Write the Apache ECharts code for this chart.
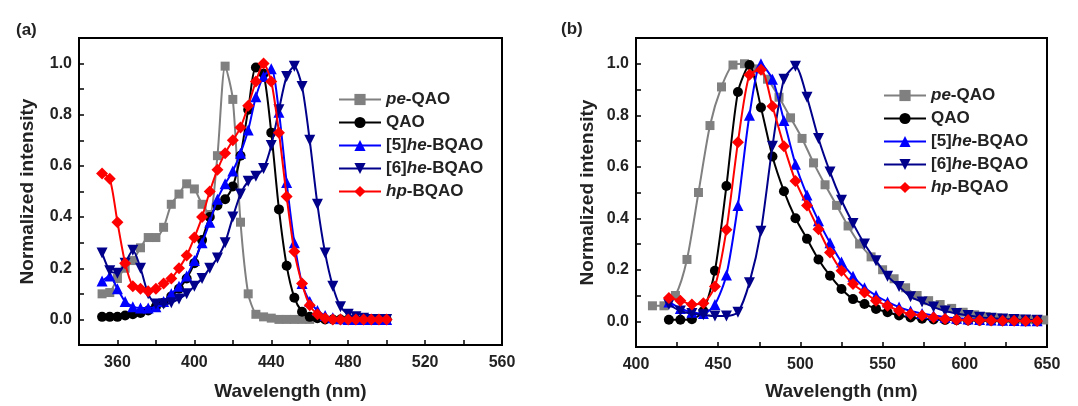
<!DOCTYPE html>
<html>
<head>
<meta charset="utf-8">
<script src="https://cdn.jsdelivr.net/npm/echarts@6/dist/echarts.min.js"></script>
<style>
html,body{margin:0;padding:0;background:#fff;}
#c{width:1078px;height:406px;}
</style>
</head>
<body>
<div id="c"></div>
<script>
// ---------- Data ----------
const seriesNames = ['pe-QAO', 'QAO', '[5]he-BQAO', '[6]he-BQAO', 'hp-BQAO'];

// Panel (a)
const wavelengthA = [352,356,360,364,368,372,376,380,384,388,392,396,400,404,408,412,416,420,424,428,432,436,440,444,448,452,456,460,464,468,472,476,480,484,488,492,496,500];
const wavelengthA_pe = [352,356,360,364,368,372,376,380,384,388,392,396,400,404,408,412,416,420,424,428,432,436,440,444,448,452,456,460];
const peQAO_A = [0.10,0.105,0.16,0.20,0.23,0.28,0.32,0.32,0.36,0.45,0.49,0.53,0.51,0.45,0.41,0.64,0.99,0.86,0.38,0.10,0.02,0.01,0.005,0,0,0,0,0];
const QAO_A   = [0.01,0.01,0.01,0.015,0.02,0.025,0.035,0.05,0.065,0.09,0.12,0.16,0.22,0.31,0.40,0.445,0.47,0.52,0.64,0.82,0.985,0.96,0.73,0.43,0.21,0.085,0.03,0.01,0.005,0,0,0,0,0,0,0,0,0];
const he5_A   = [0.15,0.17,0.12,0.07,0.05,0.045,0.045,0.05,0.07,0.10,0.13,0.17,0.23,0.30,0.38,0.47,0.53,0.58,0.65,0.74,0.87,0.95,0.98,0.81,0.535,0.30,0.14,0.07,0.035,0.015,0.007,0.003,0,0,0,0,0,0];
const he6_A   = [0.26,0.19,0.18,0.22,0.27,0.20,0.10,0.06,0.06,0.065,0.08,0.10,0.13,0.16,0.20,0.24,0.30,0.40,0.49,0.54,0.56,0.59,0.68,0.82,0.95,0.99,0.91,0.70,0.45,0.26,0.13,0.05,0.02,0.01,0.005,0,0,0];
const hp_A    = [0.57,0.55,0.38,0.22,0.13,0.12,0.11,0.12,0.14,0.16,0.20,0.25,0.32,0.40,0.50,0.585,0.65,0.70,0.75,0.835,0.93,1.0,0.93,0.73,0.48,0.265,0.14,0.055,0.02,0.005,0,0,0,0,0,0,0,0];

// Panel (b)
const wavelengthB = [420,427,434,441,448,455,462,469,476,483,490,497,504,511,518,525,532,539,546,553,560,567,574,581,588,595,602,609,616,623,630,637,644];
const wavelengthB_pe = [410,417,424,431,438,445,452,459,466,473,480,487,494,501,508,515,522,529,536,543,550,557,564,571,578,585,592,599,606,613,620,627,634,641,648];
const peQAO_B = [0.06,0.06,0.10,0.24,0.50,0.76,0.91,0.995,1.0,0.98,0.94,0.87,0.79,0.71,0.615,0.53,0.45,0.37,0.30,0.25,0.20,0.165,0.13,0.10,0.08,0.065,0.05,0.035,0.025,0.018,0.013,0.01,0.008,0.006,0.005];
const QAO_B   = [0.006,0.006,0.008,0.04,0.196,0.525,0.89,0.995,0.83,0.64,0.505,0.40,0.32,0.24,0.177,0.125,0.086,0.067,0.048,0.035,0.022,0.015,0.01,0.007,0.005,0.004,0.003,0.002,0.002,0.001,0.001,0.001,0];
const he5_B   = [0.075,0.05,0.035,0.03,0.065,0.18,0.45,0.80,1.0,0.94,0.78,0.61,0.49,0.39,0.305,0.23,0.175,0.13,0.10,0.075,0.055,0.04,0.03,0.022,0.016,0.012,0.009,0.007,0.005,0.004,0.003,0.002,0.002];
const he6_B   = [0.065,0.04,0.03,0.025,0.02,0.02,0.035,0.15,0.35,0.68,0.94,0.99,0.87,0.71,0.58,0.47,0.38,0.30,0.235,0.175,0.135,0.095,0.075,0.055,0.04,0.03,0.022,0.016,0.012,0.009,0.007,0.005,0.004];
const hp_B    = [0.09,0.08,0.065,0.07,0.135,0.355,0.695,0.957,0.977,0.835,0.68,0.545,0.45,0.357,0.267,0.196,0.145,0.112,0.08,0.06,0.041,0.028,0.022,0.015,0.009,0.006,0.005,0.004,0.003,0.002,0.002,0.001,0.001];

// Axis tick labels
const xLabelsA = [360,400,440,480,520,560];
const xLabelsB = [400,450,500,550,600,650];
const yLabels = [0.0,0.2,0.4,0.6,0.8,1.0];

// ---------- Styles ----------
const FONT = '"Liberation Sans", Arial, sans-serif';
const colors = ['#808080', '#000000', '#0000FF', '#00008B', '#FF0000'];
const symbols = ['rect', 'circle', 'triangle', 'triangle', 'diamond'];
const symRot = [0, 0, 0, 180, 0];
const symSize = [9, 10, 11, 11, 12];

function pairs(xs, ys) { return ys.map((y, i) => [xs[i], y]); }

function makeSeries(idx, xs, ys, gi) {
  return {
    type: 'line',
    name: seriesNames[idx],
    xAxisIndex: gi, yAxisIndex: gi,
    data: pairs(xs, ys),
    symbol: symbols[idx],
    symbolRotate: symRot[idx],
    symbolSize: symSize[idx],
    showAllSymbol: true,
    smooth: 0.25,
    color: colors[idx],
    lineStyle: { width: 2, color: colors[idx] },
    itemStyle: { color: colors[idx] },
    emphasis: { disabled: true },
    animation: false,
    z: 2 + idx
  };
}

function xAxis(gi, min, max, interval, labels, gap) {
  return {
    type: 'value', gridIndex: gi, min: min, max: max, interval: interval,
    name: 'Wavelength (nm)', nameLocation: 'middle', nameGap: gap,
    nameTextStyle: { fontFamily: FONT, fontWeight: 'bold', fontSize: 19, color: '#222' },
    axisLine: { show: true, onZero: false, lineStyle: { color: '#000', width: 2 } },
    axisTick: { show: true, inside: true, length: 5, lineStyle: { color: '#000', width: 1.5 } },
    splitLine: { show: false },
    axisLabel: {
      fontFamily: FONT, fontWeight: 'bold', fontSize: 16, color: '#222', margin: 10,
      showMinLabel: true, showMaxLabel: true,
      formatter: v => labels.indexOf(Math.round(v)) >= 0 ? String(Math.round(v)) : ''
    }
  };
}

function yAxis(gi, gap) {
  return {
    type: 'value', gridIndex: gi, min: -0.1, max: 1.1, interval: 0.1,
    name: 'Normalized intensity', nameLocation: 'middle', nameGap: gap,
    nameTextStyle: { fontFamily: FONT, fontWeight: 'bold', fontSize: 19, color: '#222' },
    axisLine: { show: true, onZero: false, lineStyle: { color: '#000', width: 2 } },
    axisTick: { show: true, inside: true, length: 5, lineStyle: { color: '#000', width: 1.5 } },
    splitLine: { show: false },
    axisLabel: {
      fontFamily: FONT, fontWeight: 'bold', fontSize: 16, color: '#222', margin: 7,
      formatter: v => {
        const r = Math.round(v * 10) / 10;
        return yLabels.some(l => Math.abs(l - r) < 1e-6) ? r.toFixed(1) : '';
      }
    }
  };
}

const legendRich = {
  it: { fontFamily: FONT, fontWeight: 'bold', fontStyle: 'italic', fontSize: 17, color: '#222' },
  n:  { fontFamily: FONT, fontWeight: 'bold', fontSize: 17, color: '#222' }
};
function legendFmt(name) {
  const m = name.match(/^(\[\d\])?(pe|he|hp)(.*)$/);
  if (m) return (m[1] ? '{n|' + m[1] + '}' : '') + '{it|' + m[2] + '}{n|' + m[3] + '}';
  return '{n|' + name + '}';
}
function legend(left, top) {
  return {
    data: seriesNames, orient: 'vertical', left: left, top: top,
    itemWidth: 42, itemHeight: 14, itemGap: 6, padding: 0, selectedMode: false,
    formatter: legendFmt,
    textStyle: { fontFamily: FONT, fontWeight: 'bold', fontSize: 17, color: '#222', rich: legendRich }
  };
}

const option = {
  backgroundColor: '#fff',
  animation: false,
  title: [
    { text: '(a)', left: 11, top: 17, textStyle: { fontFamily: FONT, fontWeight: 'bold', fontSize: 17, color: '#222' } },
    { text: '(b)', left: 556, top: 16, textStyle: { fontFamily: FONT, fontWeight: 'bold', fontSize: 17, color: '#222' } }
  ],
  grid: [
    { left: 79, top: 38, width: 423, height: 312, show: true, borderColor: '#000', borderWidth: 2, backgroundColor: 'transparent' },
    { left: 636, top: 38, width: 411, height: 310, show: true, borderColor: '#000', borderWidth: 2, backgroundColor: 'transparent' }
  ],
  xAxis: [ xAxis(0, 340, 560, 20, xLabelsA, 37), xAxis(1, 400, 650, 25, xLabelsB, 35) ],
  yAxis: [ yAxis(0, 42), yAxis(1, 39) ],
  legend: [ legend(338, 91), legend(883, 87) ],
  series: [
    makeSeries(0, wavelengthA_pe, peQAO_A, 0),
    makeSeries(1, wavelengthA, QAO_A, 0),
    makeSeries(2, wavelengthA, he5_A, 0),
    makeSeries(3, wavelengthA, he6_A, 0),
    makeSeries(4, wavelengthA, hp_A, 0),
    makeSeries(0, wavelengthB_pe, peQAO_B, 1),
    makeSeries(1, wavelengthB, QAO_B, 1),
    makeSeries(2, wavelengthB, he5_B, 1),
    makeSeries(3, wavelengthB, he6_B, 1),
    makeSeries(4, wavelengthB, hp_B, 1)
  ]
};

const chart = echarts.init(document.getElementById('c'), null, { renderer: 'canvas' });
chart.setOption(option);
</script>
</body>
</html>
